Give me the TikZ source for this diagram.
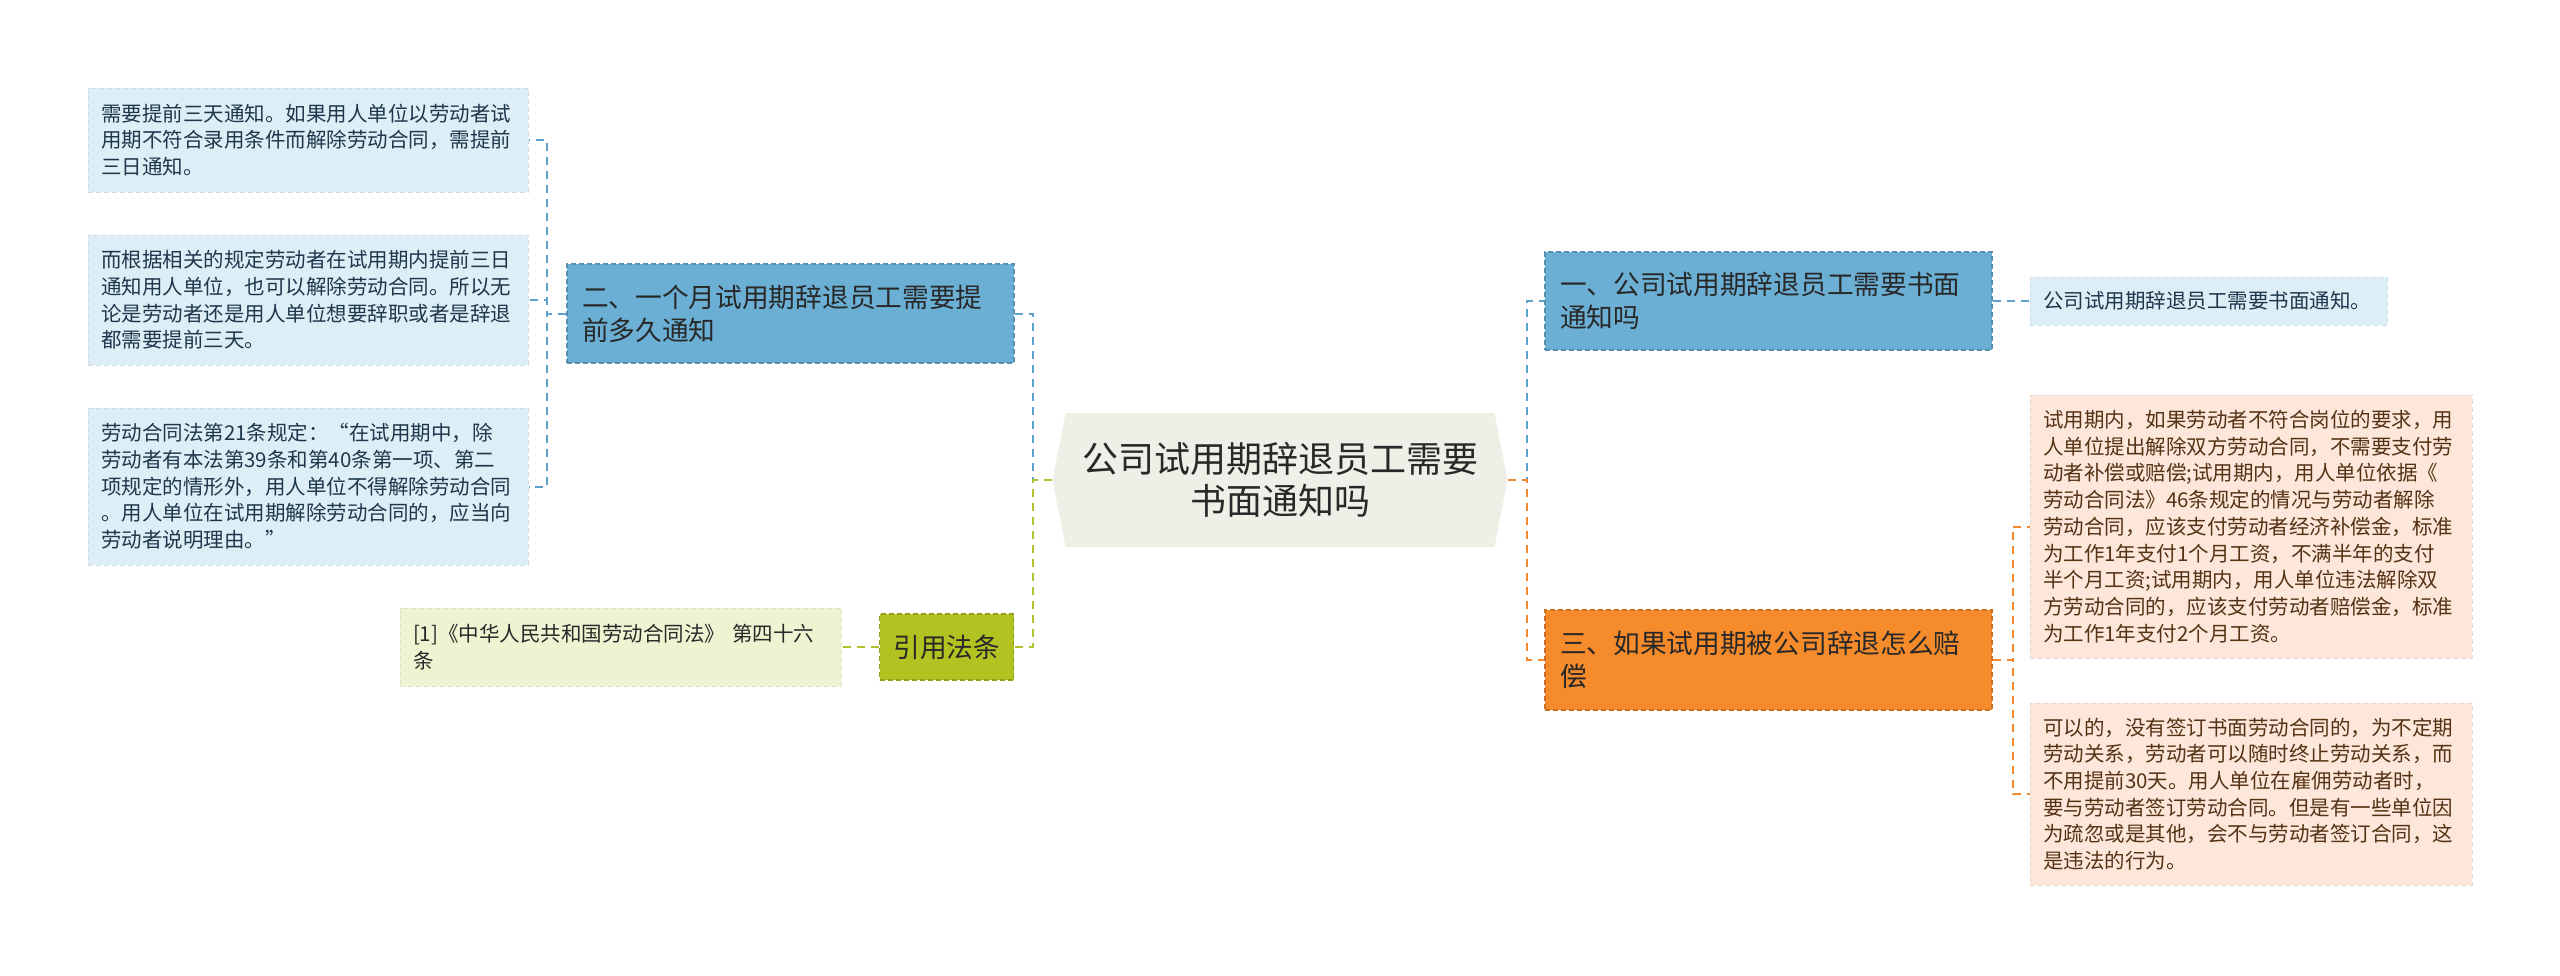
\documentclass[tikz,border=0pt]{standalone}
\usepackage{fontspec}
\setmainfont{Noto Sans CJK SC}
\usepackage{tikz}
\usetikzlibrary{shapes.symbols,positioning}
\definecolor{hubgray}{RGB}{239,239,232}
\definecolor{bluenode}{RGB}{107,175,212}
\definecolor{blueleaf}{RGB}{222,238,247}
\definecolor{blueline}{RGB}{92,162,204}
\definecolor{orangenode}{RGB}{246,139,44}
\definecolor{orangeleaf}{RGB}{252,231,218}
\definecolor{orangeline}{RGB}{240,137,50}
\definecolor{olivenode}{RGB}{178,194,32}
\definecolor{oliveleaf}{RGB}{240,243,210}
\definecolor{oliveline}{RGB}{178,192,45}
\definecolor{textdark}{RGB}{40,40,40}
\definecolor{bluetext}{RGB}{30,55,75}
\definecolor{browntext}{RGB}{85,50,20}

\begin{document}
\begin{tikzpicture}[x=1pt, y=-1pt,
    topic/.style={rectangle, draw=#1!82!black, fill=#1, dash pattern=on 5pt off 3pt, line width=1.2pt,
        align=left, text width=417pt, inner xsep=15pt, minimum height=99pt, text=textdark,
        font=\fontsize{26.7}{33}\selectfont},
    leaf/.style={rectangle, draw=#1!93!black, fill=#1, dash pattern=on 5pt off 3pt, line width=1pt,
        align=left, text width=414pt, inner xsep=13pt, font=\fontsize{20.5}{26.7}\selectfont},
    link/.style={draw=#1, line width=2pt, dash pattern=on 8pt off 6pt}]

    \useasboundingbox (0,0) rectangle (2560,975);

    % Root
    \node[signal, signal to=west and east, signal pointer angle=158, fill=hubgray, text=textdark,
        minimum width=455pt, minimum height=134pt, align=center,
        font=\fontsize{36}{42}\selectfont] (hub) at (1280,480) {公司试用期辞退员工需要\\书面通知吗};

    % Topics
    \node[topic=bluenode] (n2) at (790.5,313.5) {二、一个月试用期辞退员工需要提\\前多久通知};
    \node[topic=bluenode, minimum height=98pt] (n1) at (1768.5,301) {一、公司试用期辞退员工需要书面\\通知吗};
    \node[topic=orangenode, minimum height=100pt] (n3) at (1768.5,660) {三、如果试用期被公司辞退怎么赔\\偿};
    \node[topic=olivenode, text width=106pt, inner xsep=14pt, minimum height=66pt] (law) at (946.5,647) {引用法条};

    % Leaves
    \node[leaf=blueleaf, text=bluetext, minimum height=104pt] (la) at (308,140)
        {需要提前三天通知。如果用人单位以劳动者试\\用期不符合录用条件而解除劳动合同，需提前\\三日通知。};
    \node[leaf=blueleaf, text=bluetext, minimum height=130pt] (lb) at (308,300)
        {而根据相关的规定劳动者在试用期内提前三日\\通知用人单位，也可以解除劳动合同。所以无\\论是劳动者还是用人单位想要辞职或者是辞退\\都需要提前三天。};
    \node[leaf=blueleaf, text=bluetext, minimum height=157pt] (lc) at (308,486.5)
        {劳动合同法第21条规定：“在试用期中，除\\劳动者有本法第39条和第40条第一项、第二\\项规定的情形外，用人单位不得解除劳动合同\\。用人单位在试用期解除劳动合同的，应当向\\劳动者说明理由。”};
    \node[leaf=oliveleaf, text=textdark, text width=415pt, minimum height=78pt] (cite) at (620.5,647)
        {[1]《中华人民共和国劳动合同法》 第四十六\\条};
    \node[leaf=blueleaf, text=bluetext, text width=331pt, minimum height=48pt] (r1) at (2208.5,301)
        {公司试用期辞退员工需要书面通知。};
    \node[leaf=orangeleaf, text=browntext, text width=416pt, minimum height=263pt] (r2) at (2251,526.5)
        {试用期内，如果劳动者不符合岗位的要求，用\\人单位提出解除双方劳动合同，不需要支付劳\\动者补偿或赔偿;试用期内，用人单位依据《\\劳动合同法》46条规定的情况与劳动者解除\\劳动合同，应该支付劳动者经济补偿金，标准\\为工作1年支付1个月工资，不满半年的支付\\半个月工资;试用期内，用人单位违法解除双\\方劳动合同的，应该支付劳动者赔偿金，标准\\为工作1年支付2个月工资。};
    \node[leaf=orangeleaf, text=browntext, text width=416pt, minimum height=182pt] (r3) at (2251,794)
        {可以的，没有签订书面劳动合同的，为不定期\\劳动关系，劳动者可以随时终止劳动关系，而\\不用提前30天。用人单位在雇佣劳动者时，\\要与劳动者签订劳动合同。但是有一些单位因\\为疏忽或是其他，会不与劳动者签订合同，这\\是违法的行为。};

    % Connections
    \draw[link=blueline] (hub.west) -- ++(-19,0) |- (n2.east);
    \draw[link=oliveline] (hub.west) -- ++(-19,0) |- (law.east);
    \draw[link=blueline] (hub.east) -- ++(19,0) |- (n1.west);
    \draw[link=orangeline] (hub.east) -- ++(19,0) |- (n3.west);
    \foreach \l in {la,lb,lc} {
        \draw[link=blueline] (n2.west) -- ++(-19,0) |- (\l.east);
    }
    \draw[link=blueline] (n1.east) -- (r1.west);
    \foreach \l in {r2,r3} {
        \draw[link=orangeline] (n3.east) -- ++(20,0) |- (\l.west);
    }
    \draw[link=oliveline] (law.west) -- (cite.east);
\end{tikzpicture}
\end{document}
